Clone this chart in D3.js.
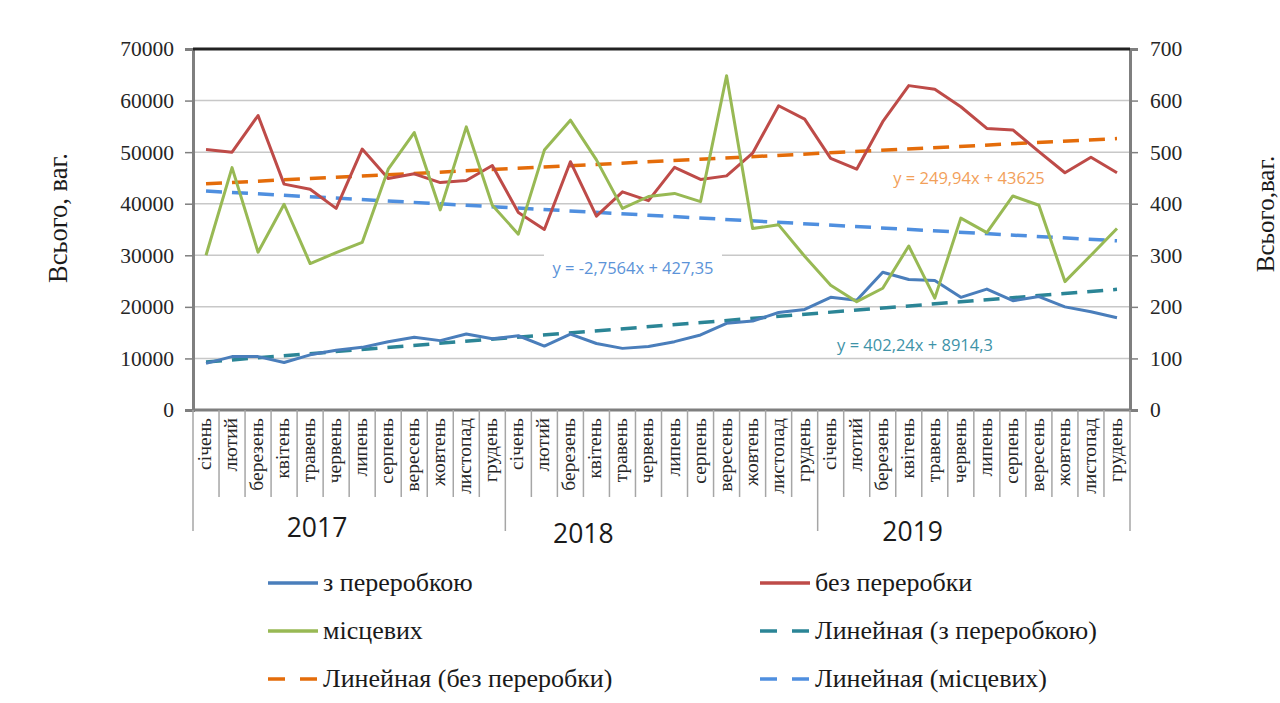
<!DOCTYPE html>
<html>
<head>
<meta charset="utf-8">
<script src="https://cdn.jsdelivr.net/npm/d3@7"></script>
<style>
  body { margin: 0; background: #fff; }
  svg { display: block; }
</style>
</head>
<body>
<div id="chart"></div>
<script>
// months and years on the category axis
const months = ["січень", "лютий", "березень", "квітень", "травень", "червень",
  "липень", "серпень", "вересень", "жовтень", "листопад", "грудень"];
const years = ["2017", "2018", "2019"];

// series values (36 months)
const withProcessing = [9050, 10350, 10350, 9200, 10700, 11600, 12150, 13250, 14100, 13450, 14750, 13800,
  14400, 12400, 14700, 12900, 11950, 12300, 13250, 14550, 16800, 17250, 18900, 19500,
  21850, 21300, 26700, 25300, 25100, 21850, 23450, 21200, 22000, 20000, 19050, 17900];
const withoutProcessing = [50500, 50000, 57100, 43800, 42800, 39100, 50600, 44900, 45800, 44100, 44500, 47400,
  38300, 35000, 48150, 37600, 42300, 40600, 47050, 44700, 45400, 49800, 59000, 56400,
  48800, 46700, 55900, 62900, 62200, 58800, 54600, 54300, 50100, 46000, 49000, 46000];
const local = [300, 470, 306, 399, 284, 305, 325, 467, 538, 388, 549, 397,
  341, 504, 562, 485, 391, 414, 420, 404, 648, 352, 359, 298,
  242, 210, 236, 318, 217, 372, 344, 415, 397, 249, 300, 352];

// trendline equations shown on the chart: [slope, intercept]
const trendWith = [402.24, 8914.3];
const trendWithout = [249.94, 43625];
const trendLocal = [-2.7564, 427.35];

const leftTicks = [0, 10000, 20000, 30000, 40000, 50000, 60000, 70000];
const rightTicks = [0, 100, 200, 300, 400, 500, 600, 700];

const W = 1280, H = 703;
const plotLeft = 193, plotRight = 1130, plotTop = 49, plotBottom = 410;
// the year captions are not centred in the original, shift from group start
const yearShift = [124, 78, 95];
const yearBase = [537, 543, 541];

const svg = d3.select("#chart").append("svg")
  .attr("width", W).attr("height", H);

const cats = d3.range(36);
const x = d3.scaleBand().domain(cats).range([plotLeft, plotRight]);
const xc = i => x(i) + x.bandwidth() / 2;
const yL = d3.scaleLinear().domain([0, 70000]).range([plotBottom, plotTop]);
const yR = d3.scaleLinear().domain([0, 700]).range([plotBottom, plotTop]);

const serif = "'Liberation Serif', 'Times New Roman', serif";
const sans = "'Open Sans', 'Liberation Sans', sans-serif";

// gridlines
svg.append("g").selectAll("line").data(leftTicks.slice(1, -1)).join("line")
  .attr("x1", plotLeft).attr("x2", plotRight)
  .attr("y1", d => yL(d)).attr("y2", d => yL(d))
  .attr("stroke", "#c8c8c8").attr("stroke-width", 1.5);

// left axis
const gL = svg.append("g").attr("transform", `translate(${plotLeft},0)`)
  .call(d3.axisLeft(yL).tickValues(leftTicks).tickSize(8).tickPadding(11).tickFormat(d3.format("d")))
  .attr("font-family", serif).attr("font-size", 21.5);
gL.select(".domain").attr("stroke", "#7f7f7f").attr("stroke-width", 3);
gL.selectAll(".tick line").attr("stroke", "#7f7f7f").attr("stroke-width", 1.5);
gL.selectAll("text").attr("fill", "#262626");

// right axis
const gR = svg.append("g").attr("transform", `translate(${plotRight},0)`)
  .call(d3.axisRight(yR).tickValues(rightTicks).tickSize(8).tickPadding(12).tickFormat(d3.format("d")))
  .attr("font-family", serif).attr("font-size", 21.5);
gR.select(".domain").attr("stroke", "#7f7f7f").attr("stroke-width", 3);
gR.selectAll(".tick line").attr("stroke", "#7f7f7f").attr("stroke-width", 1.5);
gR.selectAll("text").attr("fill", "#262626");

// top border and bottom axis
svg.append("line").attr("x1", plotLeft).attr("x2", plotRight).attr("y1", plotTop).attr("y2", plotTop)
  .attr("stroke", "#222").attr("stroke-width", 3);
svg.append("line").attr("x1", plotLeft).attr("x2", plotRight).attr("y1", plotBottom).attr("y2", plotBottom)
  .attr("stroke", "#7f7f7f").attr("stroke-width", 3);

// category separators
const bounds = d3.range(37);
svg.append("g").selectAll("line").data(bounds).join("line")
  .attr("x1", i => i < 36 ? x(i) : plotRight).attr("x2", i => i < 36 ? x(i) : plotRight)
  .attr("y1", plotBottom).attr("y2", i => i % 12 === 0 ? 531 : 497)
  .attr("stroke", "#a6a6a6").attr("stroke-width", 1.5);

// month labels
svg.append("g").selectAll("text").data(cats).join("text")
  .attr("transform", i => `translate(${xc(i) + 5},418) rotate(-90)`)
  .attr("text-anchor", "end")
  .attr("font-family", serif).attr("font-size", 19.5).attr("fill", "#262626")
  .text(i => months[i % 12]);

// year labels
svg.append("g").selectAll("text").data(years).join("text")
  .attr("x", (d, k) => x(k * 12) + yearShift[k])
  .attr("y", (d, k) => yearBase[k])
  .attr("text-anchor", "middle")
  .attr("font-family", sans).attr("font-size", 26.5).attr("fill", "#1a1a1a")
  .text(d => d);

// trendlines
const trends = [
  { eq: trendWithout, y: yL, color: "#e46c0a" },
  { eq: trendLocal, y: yR, color: "#4f8fdf" },
  { eq: trendWith, y: yL, color: "#2b8596" }
];
trends.forEach(t => {
  svg.append("line")
    .attr("x1", xc(0)).attr("x2", xc(35))
    .attr("y1", t.y(t.eq[0] * 1 + t.eq[1]))
    .attr("y2", t.y(t.eq[0] * 36 + t.eq[1]))
    .attr("stroke", t.color).attr("stroke-width", 3.5)
    .attr("stroke-dasharray", "16,10");
});

// series lines
const series = [
  { values: withProcessing, y: yL, color: "#4a7ebb" },
  { values: withoutProcessing, y: yL, color: "#be4b48" },
  { values: local, y: yR, color: "#98b954" }
];
series.forEach(s => {
  svg.append("path")
    .datum(s.values)
    .attr("fill", "none").attr("stroke", s.color).attr("stroke-width", 3)
    .attr("stroke-linejoin", "round")
    .attr("d", d3.line().x((d, i) => xc(i)).y(d => s.y(d)));
});

// equation labels
const eqLabel = (txt, cx, cy, color, bg) => {
  if (bg) {
    svg.append("rect").attr("x", cx - 89).attr("y", cy - 16).attr("width", 178).attr("height", 30)
      .attr("fill", "#fff");
  }
  svg.append("text").attr("x", cx).attr("y", cy + 6)
    .attr("text-anchor", "middle").attr("font-family", sans).attr("font-size", 16.5)
    .attr("fill", color).text(txt);
};
eqLabel("y = -2,7564x + 427,35", 633, 268, "#5b93d8", true);
eqLabel("y = 249,94x + 43625", 969, 178, "#f2a05a", false);
eqLabel("y = 402,24x + 8914,3", 915, 345, "#3e93a8", false);

// axis titles
svg.append("text").attr("transform", "translate(67,218) rotate(-90)")
  .attr("text-anchor", "middle").attr("font-family", serif).attr("font-size", 26.5)
  .attr("fill", "#1a1a1a").text("Всього,  ваг.");
svg.append("text").attr("transform", "translate(1274,214) rotate(-90)")
  .attr("text-anchor", "middle").attr("font-family", serif).attr("font-size", 25)
  .attr("fill", "#1a1a1a").text("Всього,ваг.");

// legend
const legend = [
  { name: "з переробкою", color: "#4a7ebb", dash: null },
  { name: "без переробки", color: "#be4b48", dash: null },
  { name: "місцевих", color: "#98b954", dash: null },
  { name: "Линейная (з переробкою)", color: "#2b8596", dash: "17,15" },
  { name: "Линейная (без переробки)", color: "#e46c0a", dash: "17,15" },
  { name: "Линейная (місцевих)", color: "#4f8fdf", dash: "17,15" }
];
const lg = svg.append("g").selectAll("g").data(legend).join("g")
  .attr("transform", (d, i) => `translate(${i % 2 === 0 ? 268 : 760},${583 + Math.floor(i / 2) * 48})`);
lg.append("line").attr("x1", 0).attr("x2", 50).attr("y1", 0).attr("y2", 0)
  .attr("stroke", d => d.color).attr("stroke-width", 3.5)
  .attr("stroke-dasharray", d => d.dash);
lg.append("text").attr("x", 55).attr("y", 8)
  .attr("font-family", serif).attr("font-size", 26).attr("fill", "#1a1a1a")
  .text(d => d.name);
</script>
</body>
</html>
